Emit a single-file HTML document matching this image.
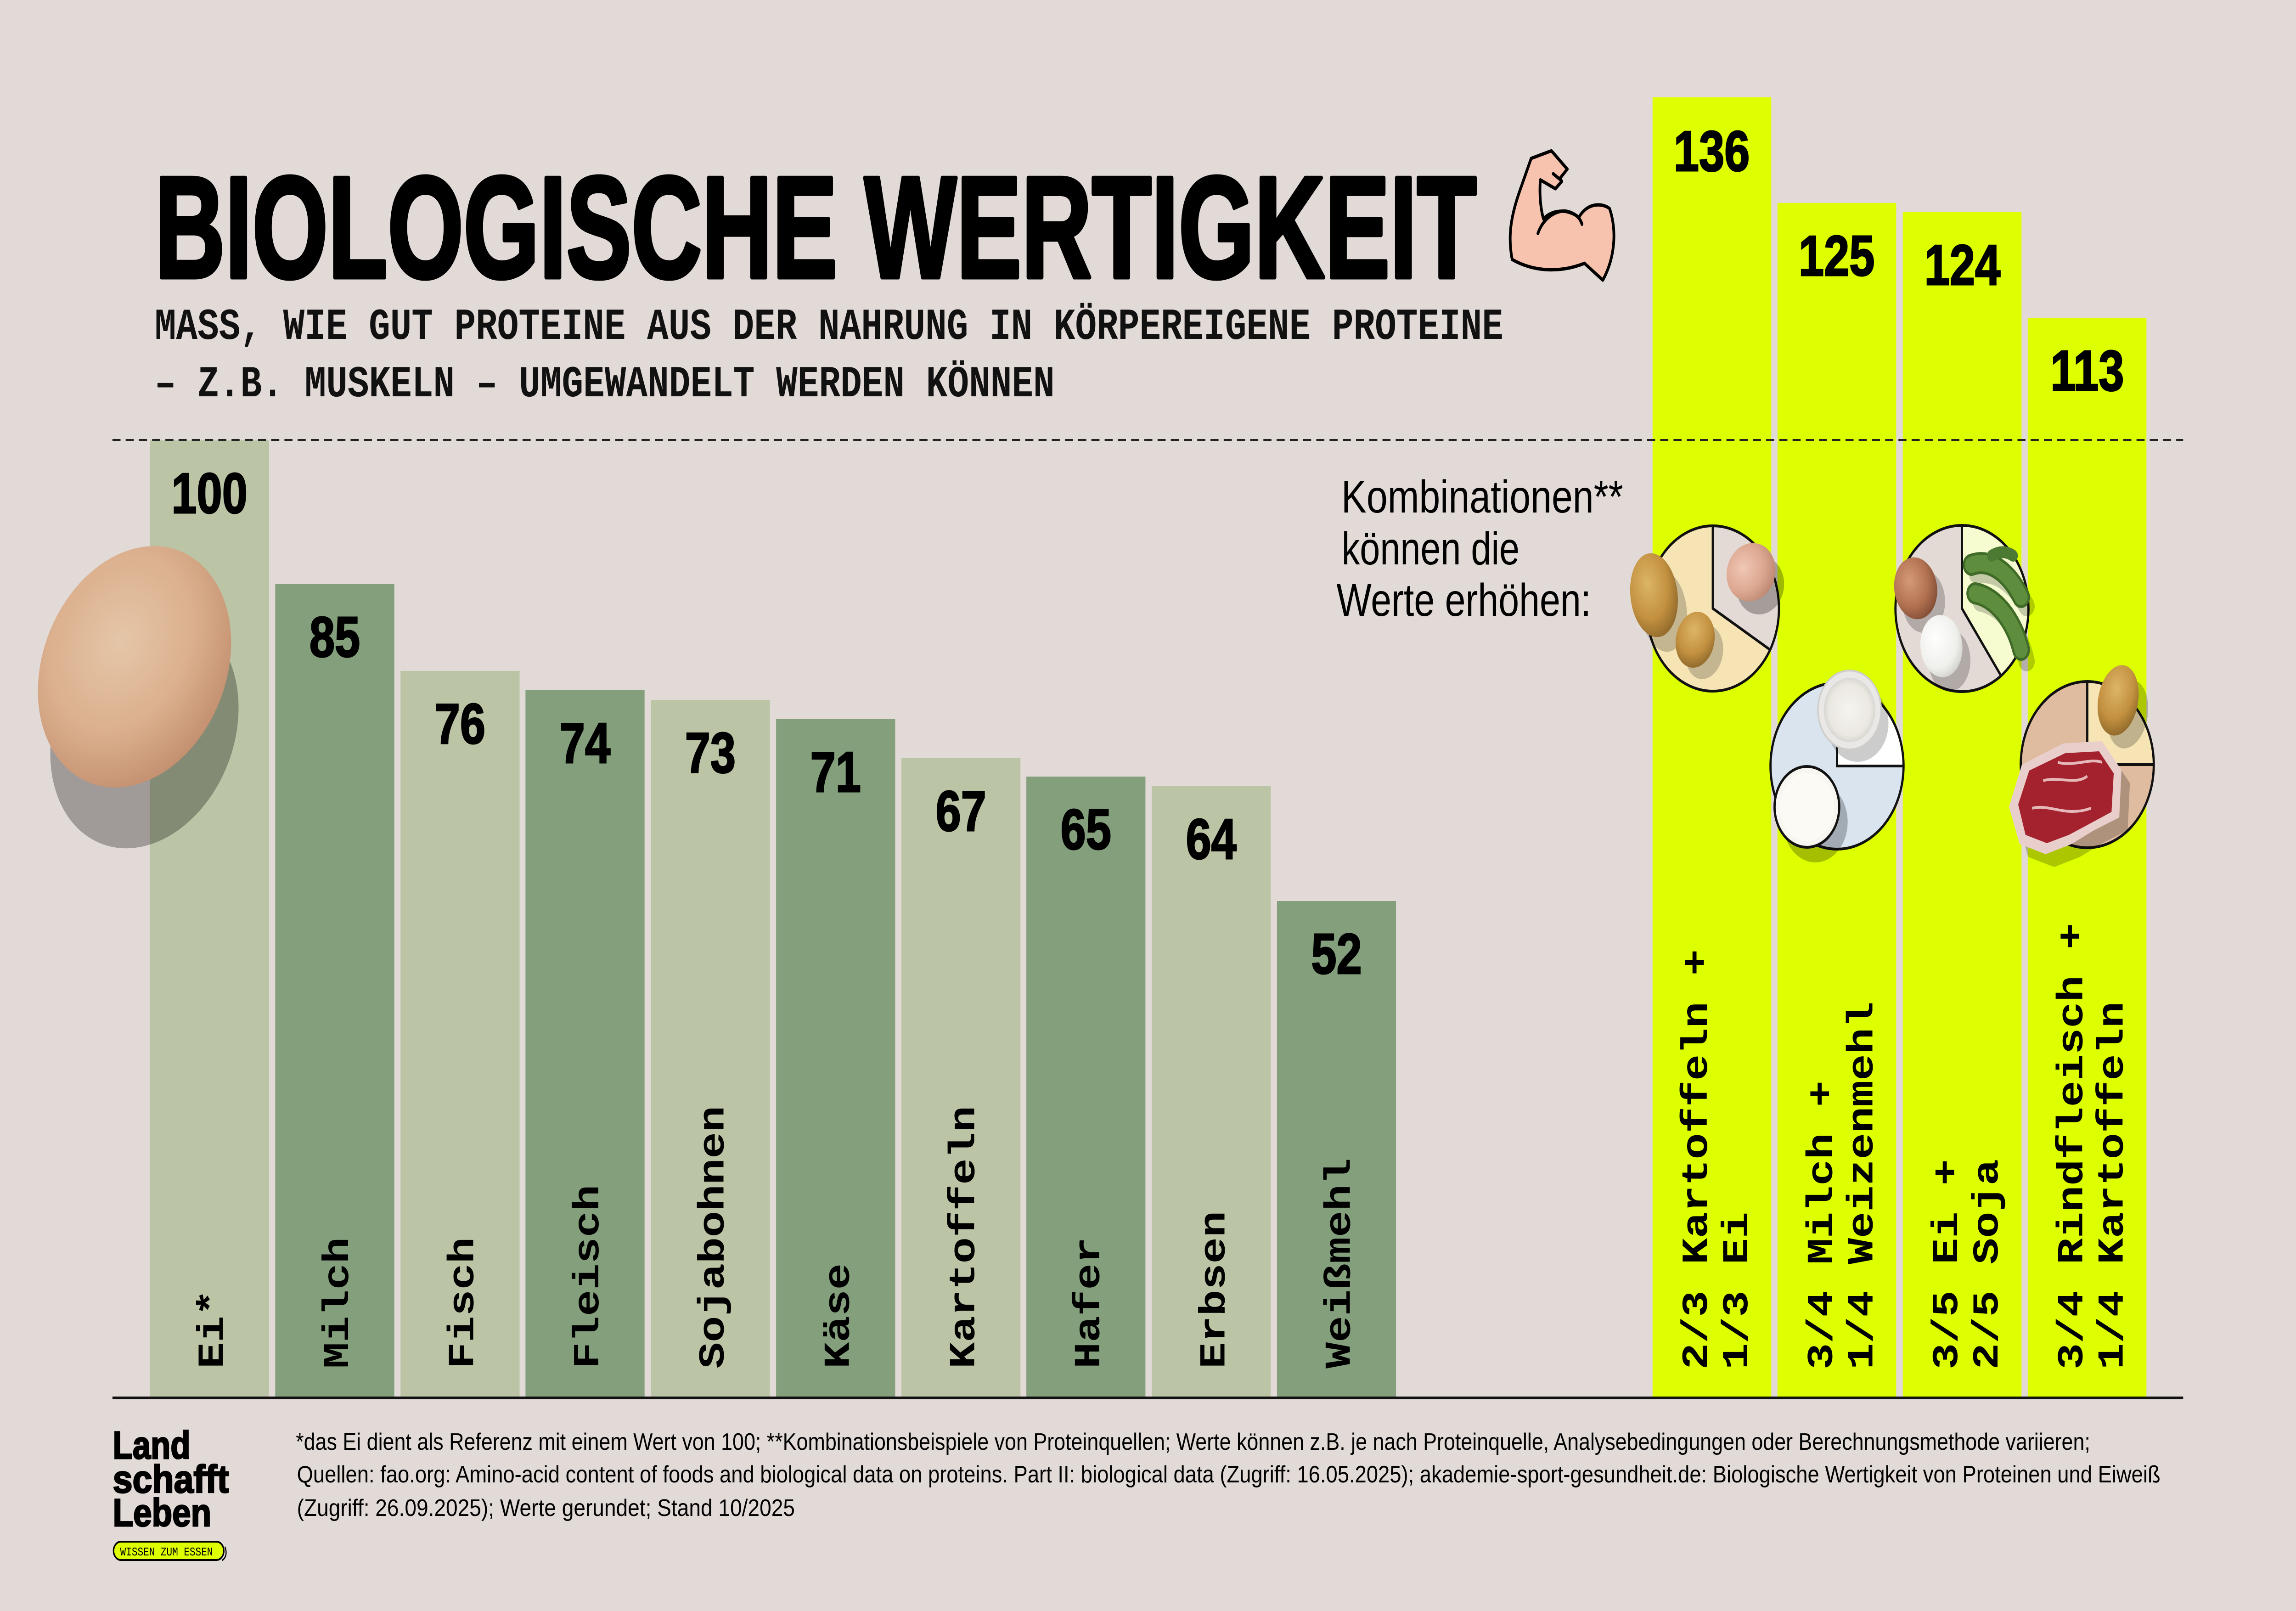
<!DOCTYPE html>
<html><head><meta charset="utf-8"><style>
html,body{margin:0;padding:0;background:#e2dad7;overflow:hidden;width:100%;height:100%;}
svg{display:block;position:fixed;left:0;top:0;width:100vw;height:100vh;}
</style></head><body>
<svg xmlns="http://www.w3.org/2000/svg" viewBox="0 0 6248 3508" preserveAspectRatio="none">
<defs>
<radialGradient id="egg" cx="0.52" cy="0.36" r="0.68">
<stop offset="0" stop-color="#e5c6a8"/><stop offset="0.55" stop-color="#dbb08e"/><stop offset="1" stop-color="#c08c6c"/>
</radialGradient>
<radialGradient id="pot" cx="0.4" cy="0.35" r="0.7">
<stop offset="0" stop-color="#dcb566"/><stop offset="0.6" stop-color="#c39140"/><stop offset="1" stop-color="#8d672a"/>
</radialGradient>
<radialGradient id="pegg" cx="0.4" cy="0.35" r="0.7">
<stop offset="0" stop-color="#f0c7b6"/><stop offset="0.6" stop-color="#dca790"/><stop offset="1" stop-color="#bb8570"/>
</radialGradient>
<radialGradient id="begg" cx="0.4" cy="0.35" r="0.7">
<stop offset="0" stop-color="#d49a78"/><stop offset="0.6" stop-color="#b27252"/><stop offset="1" stop-color="#7f4b33"/>
</radialGradient>
<radialGradient id="wegg" cx="0.4" cy="0.35" r="0.7">
<stop offset="0" stop-color="#ffffff"/><stop offset="0.7" stop-color="#efefec"/><stop offset="1" stop-color="#cfcfcb"/>
</radialGradient>
<radialGradient id="flour" cx="0.5" cy="0.5" r="0.5">
<stop offset="0" stop-color="#f6f4ef"/><stop offset="0.8" stop-color="#ebe8e2"/><stop offset="1" stop-color="#d9d7d2"/>
</radialGradient>
</defs>

<rect width="6248" height="3508" fill="#e2dad7"/>

<!-- main bars -->
<g>
<rect x="408" y="959" width="324" height="2085" fill="#bbc4a5"/>
<rect x="749" y="1272" width="324" height="1772" fill="#839f7c"/>
<rect x="1090" y="1461" width="324" height="1583" fill="#bbc4a5"/>
<rect x="1430" y="1503" width="324" height="1541" fill="#839f7c"/>
<rect x="1771" y="1524" width="324" height="1520" fill="#bbc4a5"/>
<rect x="2112" y="1566" width="324" height="1478" fill="#839f7c"/>
<rect x="2453" y="1651" width="324" height="1393" fill="#bbc4a5"/>
<rect x="2793" y="1691" width="324" height="1353" fill="#839f7c"/>
<rect x="3134" y="1712" width="324" height="1332" fill="#bbc4a5"/>
<rect x="3475" y="1962" width="324" height="1082" fill="#839f7c"/>
</g>
<!-- combo bars -->
<g fill="#ddff00">
<rect x="4497" y="212" width="323" height="2832"/>
<rect x="4837" y="442" width="323" height="2602"/>
<rect x="5178" y="462" width="323" height="2582"/>
<rect x="5518" y="692" width="323" height="2352"/>
</g>

<!-- egg -->
<ellipse cx="0" cy="0" rx="280" ry="230" transform="translate(393,1591) rotate(-45)" fill="#000" fill-opacity="0.29"/>
<ellipse cx="0" cy="0" rx="288" ry="235" transform="translate(366,1452) rotate(-45)" fill="url(#egg)"/>

<!-- dashed reference line -->
<line x1="306" y1="958" x2="5941" y2="958" stroke="#222" stroke-width="4" stroke-dasharray="22 14"/>
<!-- baseline -->
<line x1="306" y1="3044" x2="5941" y2="3044" stroke="#111" stroke-width="6"/>

<!-- value labels -->
<g font-family="Liberation Sans, Arial, sans-serif" font-weight="bold" font-size="124" text-anchor="middle" fill="#000" stroke="#000" stroke-width="3">
<text x="570" y="1117">100</text>
<text x="911" y="1430">85</text>
<text x="1252" y="1619">76</text>
<text x="1592" y="1661">74</text>
<text x="1933" y="1682">73</text>
<text x="2274" y="1724">71</text>
<text x="2615" y="1809">67</text>
<text x="2955" y="1849">65</text>
<text x="3296" y="1870">64</text>
<text x="3637" y="2120">52</text>
<text x="4658" y="372">136</text>
<text x="4998" y="600">125</text>
<text x="5340" y="620">124</text>
<text x="5680" y="850">113</text>
</g>

<!-- rotated bar labels -->
<g font-family="Liberation Mono, 'DejaVu Sans Mono', monospace" font-weight="bold" font-size="100" fill="#000">
<text transform="translate(606,2980) rotate(-90)" textLength="172" lengthAdjust="spacingAndGlyphs">Ei*</text>
<text transform="translate(947,2980) rotate(-90)" textLength="286" lengthAdjust="spacingAndGlyphs">Milch</text>
<text transform="translate(1288,2980) rotate(-90)" textLength="286" lengthAdjust="spacingAndGlyphs">Fisch</text>
<text transform="translate(1628,2980) rotate(-90)" textLength="400" lengthAdjust="spacingAndGlyphs">Fleisch</text>
<text transform="translate(1969,2980) rotate(-90)" textLength="572" lengthAdjust="spacingAndGlyphs">Sojabohnen</text>
<text transform="translate(2310,2980) rotate(-90)" textLength="229" lengthAdjust="spacingAndGlyphs">Käse</text>
<text transform="translate(2651,2980) rotate(-90)" textLength="572" lengthAdjust="spacingAndGlyphs">Kartoffeln</text>
<text transform="translate(2991,2980) rotate(-90)" textLength="286" lengthAdjust="spacingAndGlyphs">Hafer</text>
<text transform="translate(3332,2980) rotate(-90)" textLength="343" lengthAdjust="spacingAndGlyphs">Erbsen</text>
<text transform="translate(3673,2980) rotate(-90)" textLength="458" lengthAdjust="spacingAndGlyphs">Weißmehl</text>

<text transform="translate(4645,2982) rotate(-90)" textLength="915" lengthAdjust="spacingAndGlyphs">2/3 Kartoffeln +</text>
<text transform="translate(4755,2982) rotate(-90)" textLength="343" lengthAdjust="spacingAndGlyphs">1/3 Ei</text>
<text transform="translate(4985,2982) rotate(-90)" textLength="629" lengthAdjust="spacingAndGlyphs">3/4 Milch +</text>
<text transform="translate(5095,2982) rotate(-90)" textLength="801" lengthAdjust="spacingAndGlyphs">1/4 Weizenmehl</text>
<text transform="translate(5326,2982) rotate(-90)" textLength="458" lengthAdjust="spacingAndGlyphs">3/5 Ei +</text>
<text transform="translate(5436,2982) rotate(-90)" textLength="458" lengthAdjust="spacingAndGlyphs">2/5 Soja</text>
<text transform="translate(5666,2982) rotate(-90)" textLength="972" lengthAdjust="spacingAndGlyphs">3/4 Rindfleisch +</text>
<text transform="translate(5776,2982) rotate(-90)" textLength="801" lengthAdjust="spacingAndGlyphs">1/4 Kartoffeln</text>
</g>

<!-- title -->
<text x="421" y="604" font-family="Liberation Sans, Arial, sans-serif" font-weight="bold" font-size="315" fill="#000" stroke="#000" stroke-width="9" stroke-linejoin="round" textLength="3597" lengthAdjust="spacingAndGlyphs">BIOLOGISCHE WERTIGKEIT</text>
<g font-family="Liberation Mono, 'DejaVu Sans Mono', monospace" font-weight="bold" font-size="97" fill="#111">
<text x="421" y="738" textLength="3670" lengthAdjust="spacingAndGlyphs">MASS, WIE GUT PROTEINE AUS DER NAHRUNG IN KÖRPEREIGENE PROTEINE</text>
<text x="421" y="863" textLength="2449" lengthAdjust="spacingAndGlyphs">– Z.B. MUSKELN – UMGEWANDELT WERDEN KÖNNEN</text>
</g>

<!-- muscle -->
<g transform="translate(4050,300) scale(0.33333)" stroke="#000" stroke-width="22" stroke-linejoin="round" stroke-linecap="round">
<path d="M195,795 C160,650 180,520 260,340 L350,135 L515,85 L645,205 L585,265 L600,285 L548,333 L425,275 C415,380 430,470 450,530 C520,470 640,460 740,520 C800,430 920,420 990,462 C1040,580 1050,760 935,930 L785,820 C600,880 380,880 195,795 Z" fill="#f8c3ae"/>
<path d="M405,625 C450,520 560,470 640,480 C700,490 750,520 765,565" fill="none"/>
<path d="M530,235 L590,275" fill="none"/>
</g>

<!-- Kombinationen text -->
<g font-family="Liberation Sans, Arial, sans-serif" font-size="100" fill="#000">
<text x="3650" y="1116" textLength="767" lengthAdjust="spacingAndGlyphs">Kombinationen**</text>
<text x="3651" y="1229" textLength="484" lengthAdjust="spacingAndGlyphs">können die</text>
<text x="3637" y="1341" textLength="693" lengthAdjust="spacingAndGlyphs">Werte erhöhen:</text>
</g>

<!-- Pie 1: 2/3 Kartoffeln + 1/3 Ei -->
<g>
<circle cx="4661" cy="1325" r="180" fill="#f6e4b4"/>
<path d="M4661,1325 L4661,1145 A180,180 0 0 1 4817,1415 Z" fill="#e3dad5"/>
<circle cx="4661" cy="1325" r="180" fill="none" stroke="#111" stroke-width="6"/>
<path d="M4661,1145 L4661,1325 L4817,1415" fill="none" stroke="#111" stroke-width="6"/>
<ellipse cx="4528" cy="1330" rx="62" ry="90" transform="rotate(-10 4528 1330)" fill="#000" fill-opacity="0.2"/>
<ellipse cx="4638" cy="1420" rx="50" ry="60" transform="rotate(20 4638 1420)" fill="#000" fill-opacity="0.2"/>
<ellipse cx="4790" cy="1275" rx="66" ry="62" transform="rotate(-30 4790 1275)" fill="#000" fill-opacity="0.28"/>
<ellipse cx="4501" cy="1296" rx="64" ry="92" transform="rotate(-10 4501 1296)" fill="url(#pot)"/>
<ellipse cx="4613" cy="1393" rx="52" ry="62" transform="rotate(20 4613 1393)" fill="url(#pot)"/>
<ellipse cx="4765" cy="1246" rx="68" ry="62" transform="rotate(-30 4765 1246)" fill="url(#pegg)"/>
</g>

<!-- Pie 2: 3/4 Milch + 1/4 Weizenmehl -->
<g>
<circle cx="4999" cy="1668" r="181" fill="#d9e4ef"/>
<path d="M4999,1668 L4999,1487 A181,181 0 0 1 5180,1668 Z" fill="#ffffff"/>
<circle cx="4999" cy="1668" r="181" fill="none" stroke="#111" stroke-width="6"/>
<path d="M4999,1487 L4999,1668 L5180,1668" fill="none" stroke="#111" stroke-width="6"/>
<circle cx="5055" cy="1575" r="84" fill="#000" fill-opacity="0.2"/>
<circle cx="4940" cy="1790" r="88" fill="#000" fill-opacity="0.25"/>
<circle cx="5033" cy="1546" r="86" fill="#e9e8e6" stroke="#cfcdc9" stroke-width="4"/>
<circle cx="5033" cy="1546" r="70" fill="url(#flour)"/>
<circle cx="4917" cy="1757" r="88" fill="#f8f6f0" stroke="#111" stroke-width="6"/>
<circle cx="4917" cy="1757" r="74" fill="#fbfaf5"/>
</g>

<!-- Pie 3: 3/5 Ei + 2/5 Soja -->
<g>
<circle cx="5339" cy="1325" r="181" fill="#e3dad5"/>
<path d="M5339,1325 L5339,1144 A181,181 0 0 1 5445,1471 Z" fill="#f6fcd0"/>
<circle cx="5339" cy="1325" r="181" fill="none" stroke="#111" stroke-width="6"/>
<path d="M5339,1144 L5339,1325 L5445,1471" fill="none" stroke="#111" stroke-width="6"/>
<ellipse cx="5235" cy="1310" rx="58" ry="68" fill="#000" fill-opacity="0.22"/>
<ellipse cx="5305" cy="1438" rx="57" ry="68" fill="#000" fill-opacity="0.22"/>
<path d="M5380,1250 C5430,1240 5480,1270 5515,1320" fill="none" stroke="#000" stroke-opacity="0.2" stroke-width="44" stroke-linecap="round"/>
<path d="M5390,1310 C5450,1320 5495,1370 5515,1440" fill="none" stroke="#000" stroke-opacity="0.2" stroke-width="44" stroke-linecap="round"/>
<ellipse cx="5213" cy="1281" rx="58" ry="68" transform="rotate(-15 5213 1281)" fill="url(#begg)"/>
<ellipse cx="5283" cy="1407" rx="57" ry="68" transform="rotate(-10 5283 1407)" fill="url(#wegg)"/>
<path d="M5365,1230 C5415,1215 5465,1245 5500,1300" fill="none" stroke="#3f6a28" stroke-width="48" stroke-linecap="round"/>
<path d="M5365,1230 C5415,1215 5465,1245 5500,1300" fill="none" stroke="#5e8d3d" stroke-width="36" stroke-linecap="round"/>
<path d="M5375,1292 C5430,1300 5480,1350 5500,1415" fill="none" stroke="#3f6a28" stroke-width="48" stroke-linecap="round"/>
<path d="M5375,1292 C5430,1300 5480,1350 5500,1415" fill="none" stroke="#5e8d3d" stroke-width="36" stroke-linecap="round"/>
<path d="M5420,1210 C5440,1200 5460,1200 5478,1210" fill="none" stroke="#4d7a32" stroke-width="26" stroke-linecap="round"/>
</g>

<!-- Pie 4: 3/4 Rindfleisch + 1/4 Kartoffeln -->
<g>
<circle cx="5680" cy="1665" r="181" fill="#dfbb9f"/>
<path d="M5680,1665 L5680,1484 A181,181 0 0 1 5861,1665 Z" fill="#f6e4b4"/>
<circle cx="5680" cy="1665" r="181" fill="none" stroke="#111" stroke-width="6"/>
<path d="M5680,1484 L5680,1665 L5861,1665" fill="none" stroke="#111" stroke-width="6"/>
<ellipse cx="5790" cy="1555" rx="54" ry="76" transform="rotate(15 5790 1555)" fill="#000" fill-opacity="0.22"/>
<ellipse cx="5764" cy="1525" rx="54" ry="78" transform="rotate(15 5764 1525)" fill="url(#pot)"/>
<path d="M5490,1785 L5525,1693 L5637,1647 L5743,1642 L5796,1705 L5790,1808 L5719,1837 L5660,1866 L5590,1888 L5519,1866 Z" fill="#000" fill-opacity="0.22"/>
<path d="M5467,1757 L5502,1665 L5614,1619 L5720,1614 L5773,1677 L5767,1780 L5696,1809 L5637,1838 L5567,1860 L5496,1838 Z" fill="#e9cfcb"/>
<path d="M5492,1752 L5522,1678 L5620,1640 L5712,1636 L5752,1684 L5746,1768 L5686,1794 L5630,1818 L5570,1836 L5512,1818 Z" fill="#a4212e"/>
<path d="M5560,1700 C5600,1690 5650,1710 5680,1690 M5530,1760 C5580,1750 5620,1780 5690,1760 M5600,1660 C5640,1670 5690,1650 5720,1660" fill="none" stroke="#e5b9b9" stroke-width="6"/>
</g>

<!-- footer logo -->
<g font-family="Liberation Sans, Arial, sans-serif" font-weight="bold" font-size="84" fill="#000" stroke="#000" stroke-width="3">
<text x="307" y="3176" textLength="211" lengthAdjust="spacingAndGlyphs">Land</text>
<text x="307" y="3250" textLength="316" lengthAdjust="spacingAndGlyphs">schafft</text>
<text x="307" y="3323" textLength="268" lengthAdjust="spacingAndGlyphs">Leben</text>
</g>
<rect x="309" y="3357" width="300" height="40" rx="20" fill="#ddff00" stroke="#000" stroke-width="4"/>
<path d="M612,3368 C618,3380 616,3392 604,3398" fill="none" stroke="#000" stroke-width="3"/>
<text x="327" y="3387" font-family="Liberation Mono, monospace" font-size="26" fill="#000" textLength="252" lengthAdjust="spacingAndGlyphs">WISSEN ZUM ESSEN</text>

<!-- footnotes -->
<g font-family="Liberation Sans, Arial, sans-serif" font-size="52" fill="#000">
<text x="805" y="3157" textLength="4883" lengthAdjust="spacingAndGlyphs">*das Ei dient als Referenz mit einem Wert von 100; **Kombinationsbeispiele von Proteinquellen; Werte können z.B. je nach Proteinquelle, Analysebedingungen oder Berechnungsmethode variieren;</text>
<text x="808" y="3228" textLength="5071" lengthAdjust="spacingAndGlyphs">Quellen: fao.org: Amino-acid content of foods and biological data on proteins. Part II: biological data (Zugriff: 16.05.2025); akademie-sport-gesundheit.de: Biologische Wertigkeit von Proteinen und Eiweiß</text>
<text x="808" y="3301" textLength="1355" lengthAdjust="spacingAndGlyphs">(Zugriff: 26.09.2025); Werte gerundet; Stand 10/2025</text>
</g>
</svg>
</body></html>
